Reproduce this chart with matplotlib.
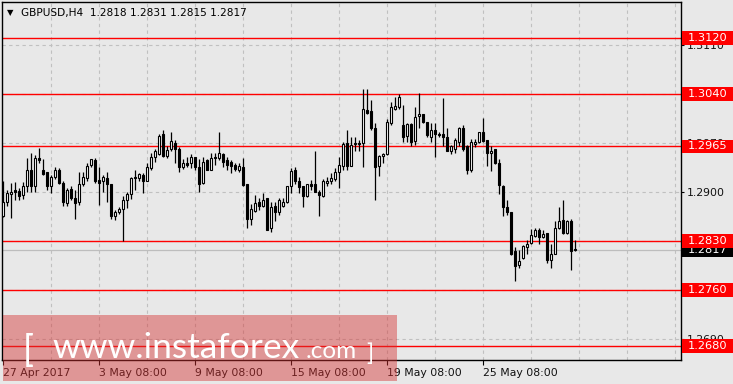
import matplotlib
matplotlib.use("Agg")
import matplotlib.pyplot as plt
import matplotlib.transforms as mtransforms
from matplotlib.patches import Rectangle
import numpy as np

# ---------------- data ----------------
opens = [1.2865, 1.2885, 1.2897, 1.2903, 1.2902, 1.2895, 1.2908, 1.2932, 1.2908, 1.2948,
         1.2931, 1.2928, 1.2909, 1.2921, 1.2932, 1.2913, 1.2884, 1.2904, 1.2892, 1.2885,
         1.2911, 1.2920, 1.2938, 1.2946, 1.2917, 1.2915, 1.2920, 1.2911, 1.2865, 1.2871,
         1.2876, 1.2889, 1.2897, 1.2921, 1.2920, 1.2924, 1.2915, 1.2934, 1.2950, 1.2954,
         1.2983, 1.2951, 1.2961, 1.2970, 1.2962, 1.2936, 1.2942, 1.2941, 1.2950, 1.2936,
         1.2913, 1.2945, 1.2932, 1.2950, 1.2948, 1.2954, 1.2946, 1.2943, 1.2939, 1.2932,
         1.2935, 1.2912, 1.2861, 1.2873, 1.2886, 1.2880, 1.2891, 1.2848, 1.2880, 1.2872,
         1.2880, 1.2885, 1.2908, 1.2931, 1.2916, 1.2908, 1.2894, 1.2912, 1.2911, 1.2900,
         1.2894, 1.2913, 1.2916, 1.2918, 1.2928, 1.2937, 1.2970, 1.2937, 1.2969, 1.2970,
         1.2970, 1.3017, 1.3015, 1.2991, 1.2937, 1.2951, 1.2954, 1.2999, 1.3019, 1.3022,
         1.2996, 1.2980, 1.2997, 1.2973, 1.3009, 1.3011, 1.3000, 1.2979, 1.2989, 1.2983,
         1.2983, 1.2978, 1.2958, 1.2962, 1.2972, 1.2991, 1.2966, 1.2931, 1.2969, 1.2971,
         1.2985, 1.2974, 1.2955, 1.2961, 1.2942, 1.2909, 1.2879, 1.2872, 1.2815, 1.2795,
         1.2805, 1.2822, 1.2827, 1.2837, 1.2846, 1.2835, 1.2841, 1.2803, 1.2812, 1.2848,
         1.2860, 1.2841, 1.2858, 1.2818]
highs = [1.2916, 1.2903, 1.2913, 1.2914, 1.2905, 1.2914, 1.2948, 1.2955, 1.2953, 1.2963,
         1.2947, 1.2928, 1.2924, 1.2935, 1.2934, 1.2915, 1.2905, 1.2908, 1.2903, 1.2929,
         1.2928, 1.2941, 1.2947, 1.2948, 1.2936, 1.2924, 1.2929, 1.2911, 1.2874, 1.2878,
         1.2894, 1.2900, 1.2922, 1.2931, 1.2927, 1.2927, 1.2942, 1.2955, 1.2962, 1.2983,
         1.2989, 1.2965, 1.2986, 1.2974, 1.2964, 1.2947, 1.2950, 1.2954, 1.2950, 1.2947,
         1.2950, 1.2947, 1.2955, 1.2955, 1.2986, 1.2956, 1.2950, 1.2946, 1.2942, 1.2941,
         1.2948, 1.2912, 1.2883, 1.2896, 1.2892, 1.2898, 1.2892, 1.2886, 1.2886, 1.2892,
         1.2891, 1.2909, 1.2934, 1.2935, 1.2921, 1.2909, 1.2912, 1.2917, 1.2958, 1.2903,
         1.2918, 1.2922, 1.2927, 1.2934, 1.2950, 1.2972, 1.2989, 1.2979, 1.2979, 1.2974,
         1.3047, 1.3047, 1.3031, 1.2998, 1.2953, 1.2956, 1.3004, 1.3028, 1.3036, 1.3040,
         1.3024, 1.2999, 1.2998, 1.3022, 1.3041, 1.3012, 1.3000, 1.2998, 1.2999, 1.2986,
         1.3034, 1.2991, 1.2967, 1.2977, 1.2993, 1.2996, 1.2967, 1.2975, 1.2975, 1.2986,
         1.3005, 1.2974, 1.2965, 1.2962, 1.2947, 1.2910, 1.2889, 1.2872, 1.2821, 1.2817,
         1.2824, 1.2831, 1.2847, 1.2848, 1.2848, 1.2846, 1.2842, 1.2826, 1.2858, 1.2878,
         1.2888, 1.2860, 1.2862, 1.2831]
lows = [1.2864, 1.2880, 1.2863, 1.2889, 1.2889, 1.2890, 1.2900, 1.2900, 1.2900, 1.2942,
        1.2924, 1.2903, 1.2899, 1.2918, 1.2912, 1.2880, 1.2880, 1.2889, 1.2862, 1.2881,
        1.2909, 1.2915, 1.2936, 1.2913, 1.2881, 1.2900, 1.2886, 1.2862, 1.2860, 1.2869,
        1.2830, 1.2877, 1.2890, 1.2903, 1.2916, 1.2899, 1.2915, 1.2932, 1.2943, 1.2953,
        1.2950, 1.2948, 1.2959, 1.2942, 1.2929, 1.2933, 1.2936, 1.2934, 1.2931, 1.2900,
        1.2912, 1.2931, 1.2931, 1.2939, 1.2946, 1.2936, 1.2931, 1.2927, 1.2930, 1.2928,
        1.2908, 1.2848, 1.2853, 1.2872, 1.2874, 1.2879, 1.2845, 1.2843, 1.2859, 1.2867,
        1.2879, 1.2884, 1.2898, 1.2912, 1.2899, 1.2879, 1.2893, 1.2903, 1.2900, 1.2865,
        1.2893, 1.2909, 1.2912, 1.2915, 1.2905, 1.2931, 1.2932, 1.2937, 1.2958, 1.2958,
        1.2935, 1.3012, 1.2989, 1.2888, 1.2923, 1.2941, 1.2953, 1.2996, 1.3017, 1.3018,
        1.2972, 1.2972, 1.2966, 1.2967, 1.2992, 1.2999, 1.2979, 1.2972, 1.2950, 1.2978,
        1.2965, 1.2958, 1.2954, 1.2956, 1.2965, 1.2958, 1.2926, 1.2928, 1.2964, 1.2970,
        1.2972, 1.2937, 1.2930, 1.2940, 1.2897, 1.2866, 1.2867, 1.2810, 1.2773, 1.2792,
        1.2804, 1.2812, 1.2826, 1.2835, 1.2826, 1.2834, 1.2799, 1.2791, 1.2811, 1.2847,
        1.2840, 1.2840, 1.2789, 1.2815]
closes = [1.2885, 1.2898, 1.2900, 1.2900, 1.2894, 1.2909, 1.2931, 1.2908, 1.2948, 1.2946,
          1.2925, 1.2908, 1.2921, 1.2931, 1.2913, 1.2885, 1.2903, 1.2891, 1.2884, 1.2911,
          1.2921, 1.2937, 1.2947, 1.2915, 1.2913, 1.2921, 1.2911, 1.2866, 1.2871, 1.2876,
          1.2889, 1.2897, 1.2920, 1.2920, 1.2925, 1.2916, 1.2936, 1.2950, 1.2958, 1.2980,
          1.2951, 1.2960, 1.2973, 1.2962, 1.2935, 1.2942, 1.2939, 1.2950, 1.2936, 1.2912,
          1.2943, 1.2932, 1.2948, 1.2948, 1.2956, 1.2943, 1.2939, 1.2937, 1.2933, 1.2937,
          1.2910, 1.2862, 1.2875, 1.2884, 1.2880, 1.2889, 1.2846, 1.2879, 1.2871, 1.2889,
          1.2886, 1.2909, 1.2930, 1.2915, 1.2907, 1.2894, 1.2911, 1.2909, 1.2900, 1.2896,
          1.2915, 1.2916, 1.2920, 1.2929, 1.2939, 1.2969, 1.2937, 1.2967, 1.2970, 1.2969,
          1.3018, 1.3013, 1.2991, 1.2936, 1.2951, 1.2954, 1.3000, 1.3022, 1.3023, 1.3036,
          1.2979, 1.2997, 1.2972, 1.3007, 1.3011, 1.3000, 1.2981, 1.2989, 1.2983, 1.2981,
          1.2978, 1.2959, 1.2965, 1.2974, 1.2991, 1.2962, 1.2931, 1.2972, 1.2971, 1.2985,
          1.2973, 1.2956, 1.2959, 1.2941, 1.2910, 1.2879, 1.2871, 1.2812, 1.2794, 1.2801,
          1.2823, 1.2826, 1.2839, 1.2846, 1.2835, 1.2840, 1.2803, 1.2812, 1.2848, 1.2859,
          1.2842, 1.2858, 1.2816, 1.2817]

grid_levels = [1.3110, 1.3040, 1.2970, 1.2900, 1.2830, 1.2760, 1.2690]
red_levels = [1.3120, 1.3040, 1.2965, 1.2830, 1.2760, 1.2680]
current_price = 1.2817
x_tick_bars = [0, 24, 48, 72, 96, 120]
x_tick_labels = ["27 Apr 2017", "3 May 08:00", "9 May 08:00", "15 May 08:00",
                 "19 May 08:00", "25 May 08:00"]
title_text = "GBPUSD,H4  1.2818 1.2831 1.2815 1.2817"

# ---------------- figure ----------------
W, H = 733, 384
BG = "#e8e8e8"
fig = plt.figure(figsize=(W / 100, H / 100), dpi=100, facecolor=BG)

def fx(px):
    return px / W

def fy(py):
    return 1 - py / H

ax_l, ax_r, ax_t, ax_b = 2, 681, 2, 360
ax = fig.add_axes([fx(ax_l), fy(ax_b), fx(ax_r - ax_l), (ax_b - ax_t) / H])
ax.set_facecolor(BG)
ax.set_xlim(-0.25, 169.5)
ax.set_ylim(1.2660, 1.31714)

FONT = "DejaVu Sans"
FS = 7.8

# grid
for g in grid_levels:
    ax.axhline(g, color="#c0c0c0", lw=0.8, ls=(0, (3, 3)), zorder=0.5)
for xb in range(12, 170, 12):
    ax.axvline(xb, color="#c0c0c0", lw=0.8, ls=(0, (3, 3)), zorder=0.5)

# current price line
ax.axhline(current_price, color="#bdbdbd", lw=0.9, zorder=0.8)

# red levels
for r in red_levels:
    ax.axhline(r, color="#ff0000", lw=1.0, zorder=1)

# candles
idx = np.arange(len(opens))
o = np.array(opens); h = np.array(highs); l = np.array(lows); c = np.array(closes)
ax.vlines(idx, l, h, color="black", lw=0.9, zorder=2)
bull = c >= o
body_bottom = np.minimum(o, c)
body_h = np.maximum(np.abs(c - o), 0.00004)
ax.bar(idx[bull], body_h[bull], bottom=body_bottom[bull], width=0.7,
       facecolor="white", edgecolor="black", lw=0.8, zorder=3)
ax.bar(idx[~bull], body_h[~bull], bottom=body_bottom[~bull], width=0.7,
       facecolor="black", edgecolor="black", lw=0.8, zorder=3)

# spines
for s in ax.spines.values():
    s.set_color("black")
    s.set_linewidth(1.0)

# x ticks
ax.set_xticks(x_tick_bars)
ax.set_xticklabels(x_tick_labels, ha="left", fontsize=FS, family=FONT, color="#111111")
ax.tick_params(axis="x", direction="out", length=3.5, width=0.8, pad=2.5, color="black")

# y ticks on right
ax.yaxis.tick_right()
ax.set_yticks(grid_levels)
ax.set_yticklabels([f"{g:.4f}" for g in grid_levels], fontsize=FS, family=FONT,
                   color="#111111")
ax.tick_params(axis="y", direction="out", length=2.5, width=0.8, pad=2, color="black")

# level labels on the right
blend = mtransforms.blended_transform_factory(fig.transFigure, ax.transData)
box_h = 13.5 / 7000.0
bx0 = fx(682)
bw = fx(733 - 682)

def level_box(price, fc, z):
    rect = Rectangle((bx0, price - box_h / 2), bw, box_h, transform=blend,
                     facecolor=fc, edgecolor="none", clip_on=False, zorder=z)
    ax.add_artist(rect)
    ax.text(fx(688), price, f"{price:.4f}", transform=blend, color="white",
            fontsize=FS + 0.4, family=FONT, va="center", ha="left",
            clip_on=False, zorder=z + 0.1)

level_box(current_price, "black", 10)
for r in red_levels:
    level_box(r, "#ff0000", 11)

# title
fig.text(fx(7), fy(12.5), "▼", fontsize=6, family=FONT, color="black",
         va="center", ha="left")
fig.text(fx(21), fy(13), title_text, fontsize=7.6, family=FONT, color="black",
         va="center", ha="left")

# watermark
wm = Rectangle((fx(3), fy(381)), fx(394), 66 / H, transform=fig.transFigure,
               facecolor=(214 / 255, 50 / 255, 50 / 255), alpha=0.45,
               edgecolor="none", zorder=20)
fig.add_artist(wm)
wm_font = ["Lato", "DejaVu Sans"]
fig.text(fx(23), fy(362), "[", fontsize=26, family=wm_font, fontweight="normal",
         color="white", va="baseline", ha="left", zorder=21)
fig.text(fx(52), fy(358), "www.instaforex", fontsize=25.5, family=wm_font,
         fontweight="normal", color="white", va="baseline", ha="left", zorder=21)
fig.text(fx(306), fy(358), ".com", fontsize=17.5, family=wm_font, fontweight="normal",
         color="white", va="baseline", ha="left", zorder=21)
fig.text(fx(366), fy(361), "]", fontsize=17, family=wm_font, fontweight="normal",
         color="white", va="baseline", ha="left", zorder=21)

fig.savefig("out.png", dpi=100, facecolor=BG)
